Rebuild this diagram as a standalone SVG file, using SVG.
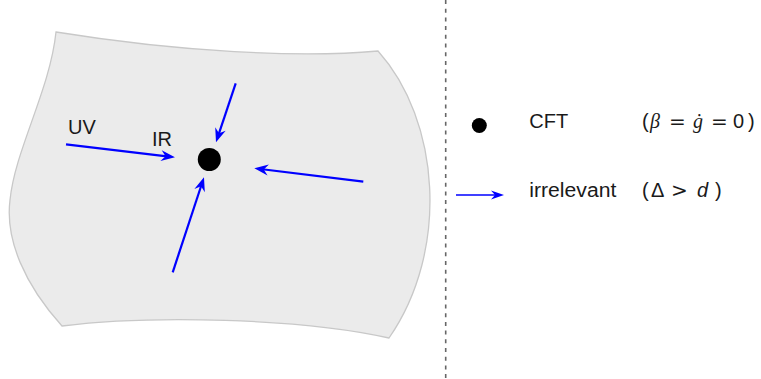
<svg xmlns="http://www.w3.org/2000/svg" width="761" height="379" viewBox="0 0 761 379">
<style>
.lbl{font-family:"Liberation Sans",Arial,sans-serif;font-size:20px;fill:#1a1a1a}
.flow{stroke:#0000ff;stroke-width:2.2;fill:none;marker-end:url(#ah)}
.mi{font-family:"Liberation Serif","Times New Roman",serif;font-style:italic}
.op{font-family:"DejaVu Sans",sans-serif}
</style>
<defs>
<marker id="ah" markerUnits="userSpaceOnUse" viewBox="-15 -6 16 12" markerWidth="16" markerHeight="12" refX="-6" refY="0" orient="auto">
<path d="M0,0 L-14,-5.5 L-9.5,0 L-14,5.5 Z" fill="#0000ff"/>
</marker>
<marker id="ahs" markerUnits="userSpaceOnUse" viewBox="-15 -6 16 12" markerWidth="16" markerHeight="12" refX="-4" refY="0" orient="auto">
<path d="M0,0 L-13,-4.5 L-9,0 L-13,4.5 Z" fill="#0000ff"/>
</marker>
</defs>
<g id="divider">
<line x1="445.7" y1="0" x2="445.7" y2="379" stroke="#666" stroke-width="1.6" stroke-dasharray="4 4.7"/>
</g>
<g id="region">
<path d="M56,32 C180,52 300,58 378,51 C440,120 450,250 389,338 C300,318 150,315 62,326 C25,285 5,240 10,200 C15,150 50,90 56,32 Z" fill="#ebebeb" stroke="#c8c8c8" stroke-width="1.3"/>
<text class="lbl" x="68" y="134">UV</text>
<text class="lbl" x="152" y="145.7">IR</text>
</g>
<g id="cft">
<circle cx="209.3" cy="159.5" r="11.5" fill="#000"/>
</g>
<g id="connectors">
<line class="flow" x1="66" y1="144.3" x2="169" y2="156.6"/>
<line class="flow" x1="235.7" y1="83.3" x2="217.9" y2="136.6"/>
<line class="flow" x1="363.3" y1="181.7" x2="260.3" y2="169"/>
<line class="flow" x1="172.7" y1="272.3" x2="202.1" y2="183"/>
</g>
<g id="legend-cft">
<circle cx="479.3" cy="125.5" r="7.5" fill="#000"/>
<text class="lbl" x="529.3" y="128.3">CFT</text>
<text class="lbl" y="128.3"><tspan x="642">(</tspan><tspan class="mi" x="650">β</tspan><tspan class="op" x="669">=</tspan><tspan class="mi" x="693">ġ</tspan><tspan class="op" x="711">=</tspan><tspan x="733">0</tspan><tspan x="748">)</tspan></text>
</g>
<g id="legend-irrelevant">
<line x1="456" y1="195" x2="500" y2="195" stroke="#0000ff" stroke-width="1.5" marker-end="url(#ahs)"/>
<text class="lbl" x="529.3" y="196.7" textLength="87" lengthAdjust="spacingAndGlyphs">irrelevant</text>
<text class="lbl" y="196.7"><tspan x="642">(</tspan><tspan x="651">Δ</tspan><tspan class="op" x="671">&gt;</tspan><tspan font-style="italic" x="697">d</tspan><tspan x="715">)</tspan></text>
</g>
</svg>
